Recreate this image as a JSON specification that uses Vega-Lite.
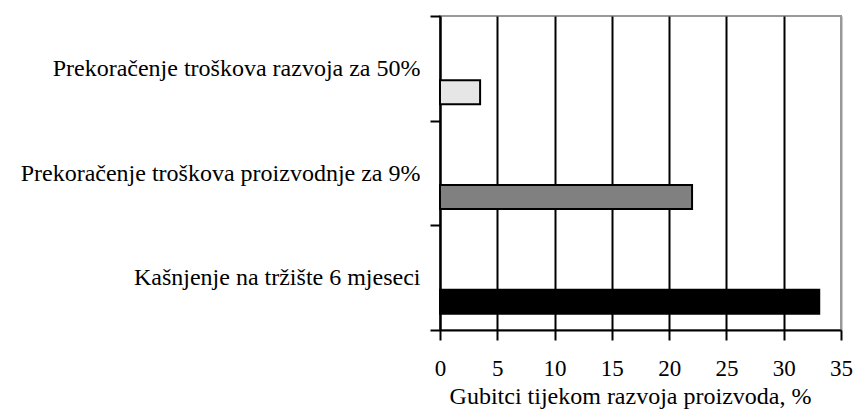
{
  "$schema": "https://vega.github.io/schema/vega-lite/v6.json",
  "width": 401,
  "height": 314,
  "autosize": "none",
  "padding": {"left": 440, "top": 16, "right": 14, "bottom": 80},
  "background": "white",
  "config": {
    "view": {"stroke": "#999999", "strokeWidth": 2},
    "font": "Liberation Serif"
  },
  "data": {
    "values": [
      {"kategorija": "Prekoračenje troškova razvoja za 50%", "gubitak": 3.5, "boja": "#e6e6e6"},
      {"kategorija": "Prekoračenje troškova proizvodnje za 9%", "gubitak": 22.0, "boja": "#808080"},
      {"kategorija": "Kašnjenje na tržište 6 mjeseci", "gubitak": 33.1, "boja": "#000000"}
    ]
  },
  "mark": {"type": "bar", "height": 24, "yOffset": 24, "stroke": "black", "strokeWidth": 2},
  "encoding": {
    "y": {
      "field": "kategorija",
      "type": "nominal",
      "sort": null,
      "scale": {"paddingInner": 0, "paddingOuter": 0},
      "axis": {
        "title": null,
        "tickBand": "extent",
        "tickSize": 10,
        "tickWidth": 2,
        "tickColor": "black",
        "domainColor": "black",
        "domainWidth": 2,
        "labelFont": "Liberation Serif",
        "labelFontSize": 24,
        "labelColor": "black",
        "labelPadding": 10,
        "labelLimit": 500,
        "grid": false
      }
    },
    "x": {
      "field": "gubitak",
      "type": "quantitative",
      "scale": {"domain": [0, 35], "nice": false},
      "axis": {
        "title": "Gubitci tijekom razvoja proizvoda, %",
        "values": [0, 5, 10, 15, 20, 25, 30, 35],
        "tickSize": 10,
        "tickWidth": 2,
        "tickColor": "black",
        "domainColor": "black",
        "domainWidth": 2,
        "grid": true,
        "gridColor": {"condition": {"test": "datum.value == 35", "value": "#999999"}, "value": "black"},
        "gridWidth": 2,
        "gridOpacity": 1,
        "labelFlush": false,
        "labelOverlap": false,
        "labelFont": "Liberation Serif",
        "labelFontSize": 23,
        "labelColor": "black",
        "labelPadding": 17,
        "titleFont": "Liberation Serif",
        "titleFontSize": 24,
        "titleFontWeight": "normal",
        "titleColor": "black",
        "titlePadding": 4,
        "titleX": 190,
        "titleAlign": "center"
      }
    },
    "fill": {"field": "boja", "type": "nominal", "scale": null, "legend": null}
  }
}
